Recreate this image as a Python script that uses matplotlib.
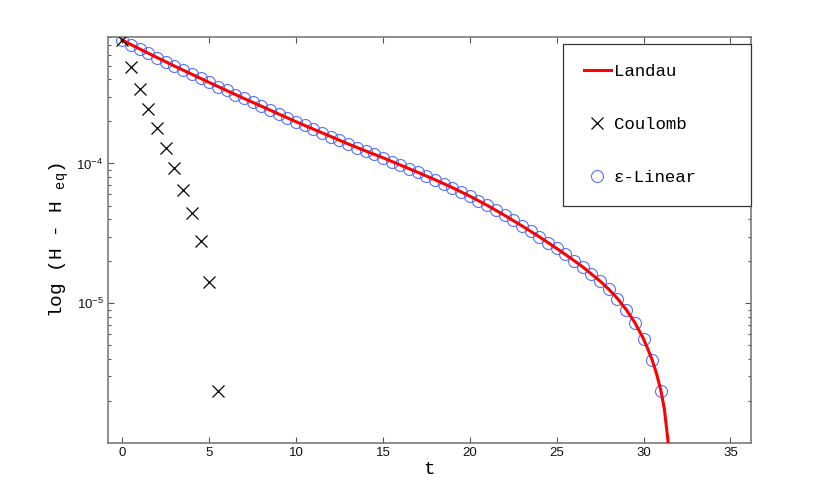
import matplotlib
matplotlib.use("Agg")
import matplotlib.pyplot as plt
from matplotlib.ticker import LogLocator, NullFormatter, FixedLocator
import numpy as np

# ---------------- data ----------------
eps_t = [0.0, 0.5, 1.0, 1.5, 2.0, 2.5, 3.0, 3.5, 4.0, 4.5, 5.0,
         5.5, 6.0, 6.5, 7.0, 7.5, 8.0, 8.5, 9.0, 9.5, 10.0,
         10.5, 11.0, 11.5, 12.0, 12.5, 13.0, 13.5, 14.0, 14.5, 15.0,
         15.5, 16.0, 16.5, 17.0, 17.5, 18.0,
         18.5, 19.0, 19.5, 20.0,
         20.5, 21.0, 21.5, 22.0,
         22.5, 23.0, 23.5, 24.0,
         24.5, 25.0, 25.5, 26.0,
         26.5, 27.0, 27.5,
         28.0, 28.5,
         29.0, 29.5, 30.0, 30.5, 31.0]
eps_vals = [7.62e-4, 7.09e-4, 6.60e-4, 6.15e-4, 5.73e-4, 5.34e-4, 4.98e-4, 4.65e-4, 4.35e-4, 4.06e-4, 3.80e-4,
            3.55e-4, 3.33e-4, 3.11e-4, 2.92e-4, 2.74e-4, 2.57e-4, 2.41e-4, 2.26e-4, 2.12e-4, 1.99e-4,
            1.87e-4, 1.76e-4, 1.66e-4, 1.56e-4, 1.47e-4, 1.38e-4, 1.30e-4, 1.23e-4, 1.16e-4, 1.10e-4,
            1.03e-4, 9.75e-5, 9.18e-5, 8.65e-5, 8.13e-5, 7.65e-5,
            7.18e-5, 6.72e-5, 6.27e-5, 5.84e-5,
            5.42e-5, 5.02e-5, 4.63e-5, 4.26e-5,
            3.91e-5, 3.58e-5, 3.27e-5, 2.99e-5,
            2.72e-5, 2.47e-5, 2.24e-5, 2.02e-5,
            1.82e-5, 1.62e-5, 1.44e-5,
            1.26e-5, 1.08e-5,
            9.02e-6, 7.27e-6, 5.56e-6, 3.92e-6, 2.37e-6]

landau_t = [0.0, 1.0, 2.0, 3.0, 4.0, 5.0, 6.0, 7.0, 8.0, 9.0, 10.0,
            11.0, 12.0, 13.0, 14.0, 15.0, 16.0, 17.0, 18.0, 19.0, 20.0,
            21.0, 22.0, 23.0, 24.0, 25.0, 26.0, 26.5, 27.0, 27.5, 28.0, 28.5,
            29.0, 29.5, 30.0, 30.25, 30.5, 30.75, 31.0, 31.2, 31.4, 31.6]
landau_vals = [7.62e-4, 6.60e-4, 5.73e-4, 4.98e-4, 4.35e-4, 3.80e-4, 3.33e-4, 2.92e-4, 2.57e-4, 2.26e-4, 1.99e-4,
               1.76e-4, 1.56e-4, 1.38e-4, 1.23e-4, 1.10e-4, 9.75e-5, 8.65e-5, 7.65e-5, 6.72e-5, 5.84e-5,
               5.02e-5, 4.26e-5, 3.58e-5, 2.99e-5, 2.47e-5, 2.02e-5, 1.82e-5, 1.62e-5, 1.44e-5, 1.26e-5, 1.08e-5,
               9.02e-6, 7.27e-6, 5.56e-6, 4.70e-6, 3.92e-6, 3.13e-6, 2.37e-6, 1.75e-6, 1.06e-6, 5.5e-7]

coul_t = [0.0, 0.5, 1.0, 1.5, 2.0, 2.5, 3.0, 3.5, 4.0, 4.5, 5.0, 5.5]
coul_vals = [7.62e-4, 4.91e-4, 3.44e-4, 2.44e-4, 1.78e-4, 1.29e-4, 9.29e-5, 6.47e-5, 4.43e-5, 2.78e-5, 1.42e-5, 2.37e-6]

x_ticks = [0, 5, 10, 15, 20, 25, 30, 35]
y_ticks = [1e-5, 1e-4]
labels = ["Landau", "Coulomb", "\u03b5-Linear"]

# ---------------- style ----------------
plt.rcParams["mathtext.default"] = "regular"
axis_grey = "#7a7a7a"
mono = ["Liberation Mono", "DejaVu Sans Mono"]
sans = ["Liberation Sans", "DejaVu Sans"]

fig = plt.figure(figsize=(8.30, 4.99), dpi=100)
ax = fig.add_axes([0.1298, 0.1122, 0.7753, 0.8131])

ax.plot(landau_t, landau_vals, color="#ff0000", lw=2.2, label=labels[0], zorder=3)
ax.plot(coul_t, coul_vals, linestyle="none", marker="x", color="black",
        markersize=9, markeredgewidth=0.9, label=labels[1], zorder=4)
ax.plot(eps_t, eps_vals, linestyle="none", marker="o", markerfacecolor="none",
        markeredgecolor="#5572ff", markersize=8.6, markeredgewidth=0.8, label=labels[2], zorder=2)

ax.set_yscale("log")
ax.set_xlim(-0.84, 36.2)
ax.set_ylim(1e-6, 8e-4)

ax.xaxis.set_major_locator(FixedLocator(x_ticks))
ax.yaxis.set_major_locator(FixedLocator(y_ticks))
ax.yaxis.set_minor_locator(LogLocator(base=10, subs=np.arange(2, 10), numticks=20))
ax.yaxis.set_minor_formatter(NullFormatter())

ax.tick_params(which="both", direction="in", top=True, right=True, color="#555555",
               width=0.8)
ax.tick_params(which="major", length=4, pad=3)
ax.tick_params(which="minor", length=2.2)
for lab in ax.get_xticklabels() + ax.get_yticklabels():
    lab.set_fontfamily(sans)
    lab.set_fontsize(9.5)
    lab.set_color("#111111")

for sp in ax.spines.values():
    sp.set_color(axis_grey)
    sp.set_linewidth(1.2)

ax.set_xlabel("t", fontfamily=mono, fontsize=14, labelpad=1)
ax.set_ylabel("log (H - H $_{eq}$)", fontfamily=mono, fontsize=14, labelpad=4)

leg = ax.legend(loc="upper left", bbox_to_anchor=(0.7078, 0.9835, 0.2922, 0.0),
                mode="expand", borderaxespad=0, frameon=True, fancybox=False,
                edgecolor="#333333", framealpha=1, prop={"family": mono, "size": 12.5},
                handlelength=1.6, handletextpad=0.15,
                labelspacing=2.18, borderpad=1.17)
leg.get_frame().set_linewidth(0.9)

fig.savefig("out.png", dpi=100)
